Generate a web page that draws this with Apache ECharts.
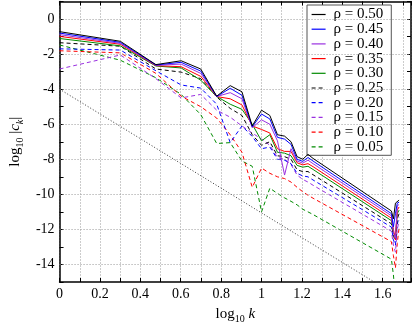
<!DOCTYPE html>
<html>
<head>
<meta charset="utf-8">
<script src="https://cdn.jsdelivr.net/npm/echarts@6/dist/echarts.min.js"></script>
<style>
html, body { margin: 0; padding: 0; background: #fff; }
#myChart { width: 414px; height: 329px; }
</style>
</head>
<body>
<div id="myChart"></div>
<script>
// log10 k for the sampled k (1..18, 44..48)
var logK = [0, 0.301, 0.477, 0.602, 0.699, 0.778, 0.845, 0.903, 0.954, 1.0, 1.041, 1.079, 1.114, 1.146, 1.176, 1.204, 1.230, 1.255, 1.643, 1.653, 1.663, 1.672, 1.681];

var rho50 = [-0.72, -1.27, -2.60, -2.38, -2.85, -4.40, -3.80, -4.15, -6.10, -5.20, -5.50, -6.60, -6.68, -7.00, -7.85, -8.00, -7.72, -7.95, -10.95, -11.40, -10.50, -10.40, -10.33];
var rho45 = [-0.80, -1.33, -2.62, -2.47, -2.97, -4.42, -3.95, -4.35, -6.15, -5.42, -5.70, -6.75, -6.85, -7.15, -8.00, -8.12, -7.90, -8.10, -11.10, -11.85, -11.10, -10.50, -10.45];
var rho40 = [-0.89, -1.39, -2.64, -2.57, -3.10, -4.42, -4.20, -4.55, -6.20, -5.75, -6.00, -6.95, -8.90, -7.40, -8.10, -8.22, -8.05, -8.25, -11.22, -12.20, -12.50, -10.65, -10.58];
var rho35 = [-0.99, -1.44, -2.66, -2.72, -3.27, -4.42, -4.55, -4.90, -6.10, -6.30, -6.50, -7.40, -7.55, -7.55, -8.20, -8.32, -8.25, -8.42, -11.36, -12.00, -12.60, -10.90, -10.72];
var rho30 = [-1.11, -1.53, -2.68, -2.79, -3.49, -4.42, -4.86, -5.15, -6.00, -6.95, -6.60, -7.60, -7.65, -7.80, -8.35, -8.45, -8.40, -8.58, -11.50, -12.20, -12.40, -11.10, -10.90];
var rho25 = [-1.35, -1.55, -2.85, -3.03, -3.40, -4.45, -5.10, -5.50, -6.60, -7.20, -7.00, -7.80, -7.85, -8.00, -8.60, -8.70, -8.70, -8.88, -11.68, -12.40, -12.60, -11.40, -11.10];
var rho20 = [-1.70, -1.77, -2.95, -3.76, -3.94, -4.86, -7.05, -6.10, -6.70, -7.40, -7.30, -8.00, -8.05, -8.25, -8.80, -8.95, -9.00, -9.18, -11.87, -12.60, -12.90, -11.70, -11.30];
var rho15 = [-2.85, -2.05, -3.40, -4.50, -4.30, -5.20, -5.60, -6.10, -6.50, -6.85, -7.20, -7.90, -8.00, -8.30, -8.90, -9.15, -9.30, -9.48, -12.10, -12.90, -13.30, -12.00, -11.50];
var rho10 = [-1.81, -1.93, -3.10, -4.40, -5.00, -5.65, -6.60, -7.60, -9.60, -8.50, -8.80, -9.00, -9.10, -9.30, -9.60, -9.85, -10.05, -10.22, -12.70, -13.50, -14.20, -12.80, -11.90];
var rho05 = [-1.48, -2.35, -3.35, -4.30, -5.45, -7.10, -7.05, -8.10, -8.40, -11.00, -9.65, -9.95, -10.20, -10.40, -10.60, -10.85, -11.00, -11.15, -13.70, -14.60, -16.00, -16.00, -16.00];

// dotted reference line
var refX = [0, 1.70];
var refY = [-4, -16];

var legendNames = ['ρ = 0.50', 'ρ = 0.45', 'ρ = 0.40', 'ρ = 0.35', 'ρ = 0.30', 'ρ = 0.25', 'ρ = 0.20', 'ρ = 0.15', 'ρ = 0.10', 'ρ = 0.05'];
var seriesVals = [rho50, rho45, rho40, rho35, rho30, rho25, rho20, rho15, rho10, rho05];
var colors = ['#000000', '#0000ff', '#9a30e0', '#ff0000', '#008b00', '#000000', '#0000ff', '#9a30e0', '#ff0000', '#008b00'];
var gridY = [-14, -12, -10, -8, -6, -4, -2, 0];

var font = 'Liberation Serif';

var pairs = function(xs, ys) {
	var out = [];
	for (var i = 0; i < xs.length; i++) {
		out.push([xs[i], ys[i]]);
	}
	return out;
};

var chart = function() {
	var myChart = echarts.init(document.getElementById('myChart'), null, {renderer: 'canvas'});
	var series = [];
	for (var i = 0; i < seriesVals.length; i++) {
		series.push({
			name: legendNames[i],
			type: 'line',
			data: pairs(logK, seriesVals[i]),
			symbol: 'none',
			showSymbol: false,
			z: 10 - i,
			lineStyle: {
				color: colors[i],
				width: 1,
				type: i < 5 ? 'solid' : [4, 3]
			},
			itemStyle: {color: colors[i]}
		});
	}
	series.push({
		name: 'ref',
		type: 'line',
		data: pairs(refX, refY),
		symbol: 'none',
		z: 1,
		lineStyle: {color: '#333', width: 1, type: [1, 2]},
		markLine: {
			silent: true,
			symbol: 'none',
			label: {show: false},
			lineStyle: {color: '#999', width: 1, type: [1, 2]},
			data: gridY.map(function(v) { return {yAxis: v}; })
		}
	});

	var axisLine = {onZero: false, lineStyle: {color: '#000', width: 1.5}};
	var axisTick = {inside: true, length: 4, lineStyle: {color: '#000'}};

	var option = {
		animation: false,
		backgroundColor: '#fff',
		grid: {left: 40.5, right: 1.5, top: 1.5, bottom: 35.6},
		legend: {
			data: legendNames,
			orient: 'vertical',
			left: 307,
			top: 5,
			padding: [2, 8, 1, 4],
			itemWidth: 14,
			itemHeight: 8,
			itemGap: -0.3,
			backgroundColor: '#fff',
			borderColor: '#555',
			borderWidth: 1,
			itemStyle: {color: 'transparent', borderWidth: 0, opacity: 0},
			lineStyle: {width: 1.2},
			textStyle: {fontFamily: font, fontSize: 15, color: '#000', padding: [0, 0, 0, 3]}
		},
		xAxis: [{
			type: 'value',
			position: 'bottom',
			min: 0,
			max: 1.74,
			interval: 0.1,
			name: '{a|log}{b|10}{c| k}',
			nameLocation: 'middle',
			nameGap: 23,
			nameTextStyle: {
				rich: {
					a: {fontFamily: font, fontSize: 15, color: '#000'},
					b: {fontFamily: font, fontSize: 10, color: '#000', padding: [9, 0, 0, 0]},
					c: {fontFamily: font, fontSize: 15, fontStyle: 'italic', color: '#000'}
				}
			},
			axisLine: axisLine,
			axisTick: axisTick,
			splitLine: {show: true, lineStyle: {color: '#999', width: 1, type: [1, 2]}},
			axisLabel: {
				margin: 5,
				fontFamily: font,
				fontSize: 14,
				color: '#000',
				formatter: function(v) {
					var t = Math.round(v * 10);
					return t % 2 === 0 ? String(t / 10) : '';
				}
			}
		}, {
			type: 'value',
			position: 'top',
			min: 0,
			max: 1.74,
			interval: 0.1,
			axisLine: axisLine,
			axisTick: axisTick,
			axisLabel: {show: false},
			splitLine: {show: false}
		}],
		yAxis: [{
			type: 'value',
			position: 'left',
			min: -15,
			max: 1,
			interval: 1,
			name: '{a|log}{b|10}{c| |}{i|c}{s|k}{c||}',
			nameLocation: 'middle',
			nameGap: 24,
			nameTextStyle: {
				rich: {
					a: {fontFamily: font, fontSize: 15, color: '#000'},
					b: {fontFamily: font, fontSize: 10, color: '#000', padding: [9, 0, 0, 0]},
					c: {fontFamily: font, fontSize: 15, color: '#000'},
					i: {fontFamily: font, fontSize: 15, fontStyle: 'italic', color: '#000'},
					s: {fontFamily: font, fontSize: 10, fontStyle: 'italic', color: '#000', padding: [9, 0, 0, 0]}
				}
			},
			axisLine: axisLine,
			axisTick: axisTick,
			splitLine: {show: false},
			axisLabel: {
				margin: 5,
				fontFamily: font,
				fontSize: 14,
				color: '#000',
				formatter: function(v) {
					return v % 2 === 0 ? String(v) : '';
				}
			}
		}, {
			type: 'value',
			position: 'right',
			min: -15,
			max: 1,
			interval: 1,
			axisLine: axisLine,
			axisTick: axisTick,
			axisLabel: {show: false},
			splitLine: {show: false}
		}],
		series: series
	};
	myChart.setOption(option);
};
chart();
</script>
</body>
</html>
